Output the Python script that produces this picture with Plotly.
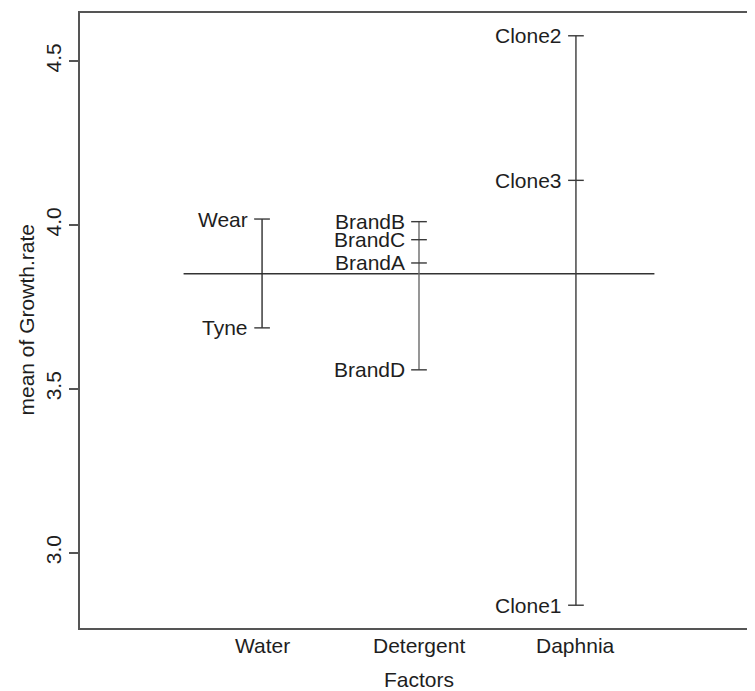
import plotly.graph_objects as go

# ---- data ----
factors = ["Water", "Detergent", "Daphnia"]
water_levels = ["Tyne", "Wear"]
water_means = [3.686, 4.018]
detergent_levels = ["BrandA", "BrandB", "BrandC", "BrandD"]
detergent_means = [3.884, 4.010, 3.955, 3.558]
daphnia_levels = ["Clone1", "Clone2", "Clone3"]
daphnia_means = [2.840, 4.577, 4.136]
grand_mean = 3.851
y_ticks = [3.0, 3.5, 4.0, 4.5]
y_tick_labels = ["3.0", "3.5", "4.0", "4.5"]

groups = [(water_levels, water_means), (detergent_levels, detergent_means),
          (daphnia_levels, daphnia_means)]
line_colors = ["#2e2e2e", "#6a6a6a", "#3a3a3a"]

FONT = "Liberation Sans, Arial, Helvetica, sans-serif"
TXT = "#1e1e1e"
FS = 21

fig = go.Figure()

# grand mean line
fig.add_trace(go.Scatter(x=[0.5, len(factors) + 0.5], y=[grand_mean, grand_mean],
                         mode="lines", line=dict(color="#333333", width=1.4),
                         hoverinfo="skip", showlegend=False))

annotations = []
for i, (levels, means) in enumerate(groups, start=1):
    col = line_colors[i - 1]
    fig.add_trace(go.Scatter(x=[i, i], y=[min(means), max(means)], mode="lines",
                             line=dict(color=col, width=1.4), hoverinfo="skip",
                             showlegend=False))
    for lv, m in zip(levels, means):
        fig.add_trace(go.Scatter(x=[i - 0.05, i + 0.05], y=[m, m], mode="lines",
                                 line=dict(color="#3a3a3a", width=1.4),
                                 hoverinfo="skip", showlegend=False))
        annotations.append(dict(x=i - 0.05, y=m, xref="x", yref="y", text=lv,
                                showarrow=False, xanchor="right", yanchor="middle",
                                xshift=-5, borderpad=0,
                                font=dict(family=FONT, size=FS, color=TXT)))

# x category labels
for i, f in enumerate(factors, start=1):
    annotations.append(dict(x=i, y=0, xref="x", yref="paper", text=f,
                            showarrow=False, xanchor="center", yanchor="middle",
                            yshift=-17, font=dict(family=FONT, size=FS, color=TXT)))

# axis titles
annotations.append(dict(x=0.5, y=0, xref="paper", yref="paper", text="Factors",
                        showarrow=False, xanchor="center", yanchor="middle",
                        yshift=-51, borderpad=0,
                        font=dict(family=FONT, size=FS, color=TXT)))
annotations.append(dict(x=0, y=0.5, xref="paper", yref="paper",
                        text="mean of Growth.rate", textangle=-90,
                        showarrow=False, xanchor="center", yanchor="middle",
                        xshift=-54, font=dict(family=FONT, size=FS, color=TXT)))

fig.update_layout(
    width=755, height=691,
    margin=dict(l=72, r=3, t=5, b=71),
    paper_bgcolor="white", plot_bgcolor="white",
    font=dict(family=FONT, size=FS, color=TXT),
    annotations=annotations,
    xaxis=dict(range=[-0.16, 4.16], showticklabels=False,
               ticks="", showgrid=False, zeroline=False, showline=True,
               mirror=True, linecolor="#555555", linewidth=1.5),
    yaxis=dict(range=[2.7705, 4.6465], tickvals=y_ticks,
               ticktext=y_tick_labels, tickangle=-90,
               ticks="outside", ticklen=9, tickcolor="#555555", tickwidth=1.5,
               showgrid=False, zeroline=False, showline=True, mirror=True,
               linecolor="#555555", linewidth=1.5,
               tickfont=dict(family=FONT, size=FS, color=TXT)),
)

fig.write_html("out.html")
